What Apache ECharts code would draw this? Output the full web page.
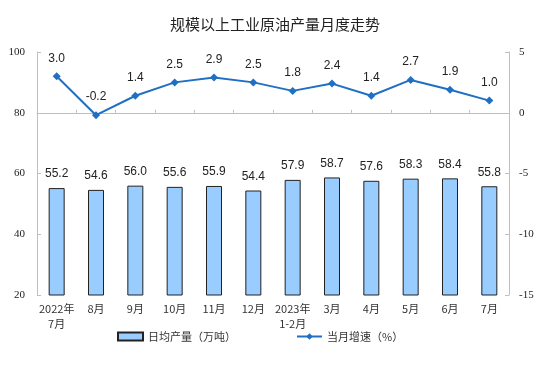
<!DOCTYPE html>
<html><head><meta charset="utf-8">
<script src="https://cdn.jsdelivr.net/npm/echarts@6/dist/echarts.min.js"></script>
<style>html,body{margin:0;padding:0;background:#fff}#c{width:550px;height:371px}</style>
</head><body><div id="c"></div>
<script>
const categories = ["2022年\n7月","8月","9月","10月","11月","12月","2023年\n1-2月","3月","4月","5月","6月","7月"];
const dailyOutput = [55.2,54.6,56.0,55.6,55.9,54.4,57.9,58.7,57.6,58.3,58.4,55.8];
const growthRate = [3.0,-0.2,1.4,2.5,2.9,2.5,1.8,2.4,1.4,2.7,1.9,1.0];
const leftTicks = {min:20,max:100,interval:20};
const rightTicks = {min:-15,max:5,interval:5};

const chart = echarts.init(document.getElementById('c'));
const axisLine = {show:true,lineStyle:{color:'#bfbfbf',width:1}};
chart.setOption({
  animation:false,
  title:{text:'规模以上工业原油产量月度走势',left:'center',top:12,
    textStyle:{fontFamily:'Noto Sans CJK SC',fontSize:15,fontWeight:'normal',color:'#222'}},
  legend:{bottom:24,left:112,itemGap:60,itemWidth:25,itemHeight:8,
    textStyle:{fontFamily:'Noto Sans CJK SC',fontSize:11,color:'#333'},
    data:[{name:'日均产量（万吨）',icon:'rect'},{name:'当月增速（%）'}]},
  grid:{left:37,right:41,top:52,bottom:76},
  xAxis:{type:'category',data:categories,axisLine:axisLine,
    axisTick:{show:true,inside:true,length:3,lineStyle:{color:'#bfbfbf'}},
    axisLabel:{fontFamily:'Noto Sans CJK SC',fontSize:11,color:'#333',lineHeight:15,margin:6,interval:0}},
  yAxis:[
    {type:'value',min:leftTicks.min,max:leftTicks.max,interval:leftTicks.interval,splitLine:{show:false},
      axisLine:axisLine,axisTick:{show:true,inside:true,length:4,lineStyle:{color:'#bfbfbf'}},
      axisLabel:{fontFamily:'Liberation Serif',fontSize:11,color:'#222',margin:12}},
    {type:'value',min:rightTicks.min,max:rightTicks.max,interval:rightTicks.interval,splitLine:{show:false},
      axisLine:axisLine,axisTick:{show:true,inside:true,length:4,lineStyle:{color:'#bfbfbf'}},
      axisLabel:{fontFamily:'Liberation Serif',fontSize:11,color:'#222',margin:10}}
  ],
  series:[
    {name:'日均产量（万吨）',type:'bar',data:dailyOutput,barWidth:16,yAxisIndex:0,
      itemStyle:{color:'#99ccff',borderColor:'#222',borderWidth:1},
      label:{show:true,position:'top',distance:8,fontFamily:'Liberation Sans',fontSize:12,color:'#222',
        formatter:p=>p.value.toFixed(1)}},
    {name:'当月增速（%）',type:'line',data:growthRate,yAxisIndex:1,symbol:'diamond',symbolSize:8,
      lineStyle:{color:'#1f6fc5',width:2},itemStyle:{color:'#1f6fc5'},
      label:{show:true,position:'top',distance:8,fontFamily:'Liberation Sans',fontSize:12,color:'#222',
        formatter:p=>p.value.toFixed(1)}}
  ]
});
</script></body></html>
